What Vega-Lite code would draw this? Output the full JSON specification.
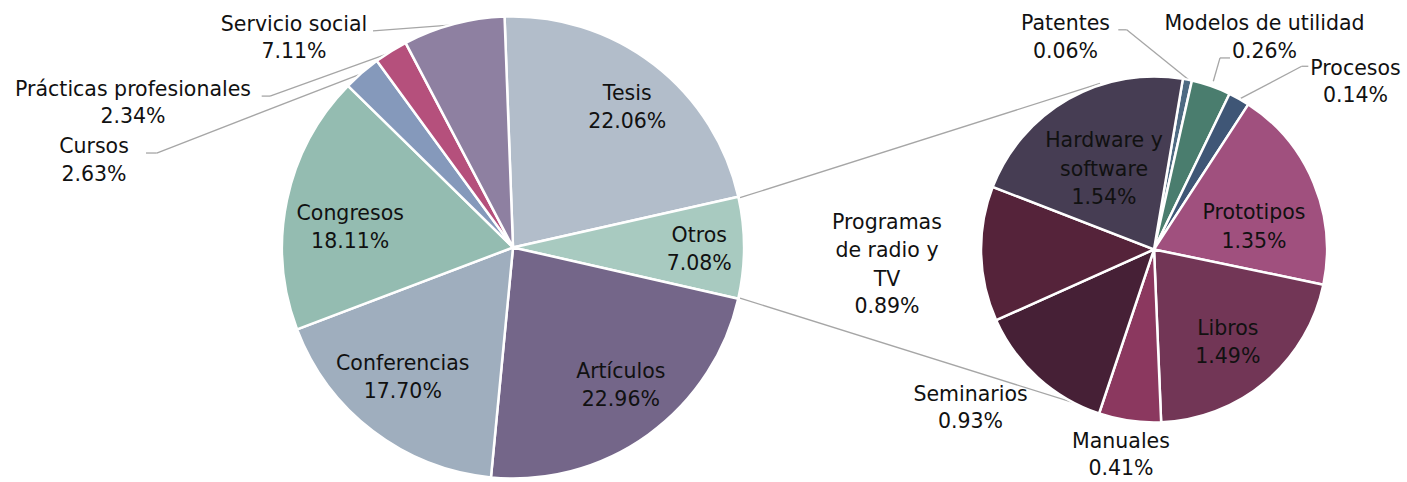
{
  "$schema": "https://vega.github.io/schema/vega-lite/v6.json",
  "width": 1407,
  "height": 482,
  "padding": 0,
  "autosize": {"type": "fit", "contains": "padding"},
  "background": "white",
  "config": {
    "view": {"stroke": null},
    "axis": {"disable": true},
    "arc": {"stroke": "#ffffff", "strokeWidth": 2.5},
    "rule": {"color": "#A6A6A6", "strokeWidth": 1.3},
    "text": {"font": "DejaVu Sans", "fontSize": 20.5, "color": "#111111", "align": "center", "baseline": "alphabetic", "lineHeight": 28.5, "lineBreak": "\n"}
  },
  "datasets": {
    "principal": [
      {"categoria": "Tesis", "valor": 0.2206},
      {"categoria": "Otros", "valor": 0.0708},
      {"categoria": "Artículos", "valor": 0.2296},
      {"categoria": "Conferencias", "valor": 0.1770},
      {"categoria": "Congresos", "valor": 0.1811},
      {"categoria": "Cursos", "valor": 0.0263},
      {"categoria": "Prácticas profesionales", "valor": 0.0234},
      {"categoria": "Servicio social", "valor": 0.0711}
    ],
    "otros": [
      {"categoria": "Patentes", "valor": 0.0006},
      {"categoria": "Modelos de utilidad", "valor": 0.0026},
      {"categoria": "Procesos", "valor": 0.0014},
      {"categoria": "Prototipos", "valor": 0.0135},
      {"categoria": "Libros", "valor": 0.0149},
      {"categoria": "Manuales", "valor": 0.0041},
      {"categoria": "Seminarios", "valor": 0.0093},
      {"categoria": "Programas de radio y TV", "valor": 0.0089, "etiqueta": "Programas\nde radio y\nTV"},
      {"categoria": "Hardware y software", "valor": 0.0154, "etiqueta": "Hardware y\nsoftware"}
    ]
  },
  "resolve": {"scale": {"theta": "independent"}},
  "layer": [
    {"data": {"name": "principal"}, "transform": [{"filter": "datum.categoria == 'Otros'"}], "mark": "rule",
     "encoding": {"x": {"datum": 0.9827, "type": "quantitative", "scale": {"domain": [-2.2208, 3.8701], "nice": false, "zero": false}}, "y": {"datum": 0.2165, "type": "quantitative", "scale": {"domain": [-1.0087, 1.0779], "nice": false, "zero": false}}, "x2": {"datum": 2.5411}, "y2": {"datum": 0.7143}}},
    {"data": {"name": "principal"}, "transform": [{"filter": "datum.categoria == 'Otros'"}], "mark": "rule",
     "encoding": {"x": {"datum": 0.9827, "type": "quantitative", "scale": {"domain": [-2.2208, 3.8701], "nice": false, "zero": false}}, "y": {"datum": -0.2208, "type": "quantitative", "scale": {"domain": [-1.0087, 1.0779], "nice": false, "zero": false}}, "x2": {"datum": 2.5195}, "y2": {"datum": -0.7056}}},
    {"data": {"name": "principal"}, "transform": [{"filter": "datum.categoria == 'Servicio social'"}], "mark": "rule",
     "encoding": {"x": {"datum": -0.6061, "type": "quantitative", "scale": {"domain": [-2.2208, 3.8701], "nice": false, "zero": false}}, "y": {"datum": 0.9437, "type": "quantitative", "scale": {"domain": [-1.0087, 1.0779], "nice": false, "zero": false}}, "x2": {"datum": -0.2597}, "y2": {"datum": 0.9697}}},
    {"data": {"name": "principal"}, "transform": [{"filter": "datum.categoria == 'Prácticas profesionales'"}], "mark": "rule",
     "encoding": {"x": {"datum": -1.0879, "type": "quantitative", "scale": {"domain": [-2.2208, 3.8701], "nice": false, "zero": false}}, "y": {"datum": 0.6593, "type": "quantitative", "scale": {"domain": [-1.0087, 1.0779], "nice": false, "zero": false}}, "x2": {"datum": -1.0519}, "y2": {"datum": 0.6593}}},
    {"data": {"name": "principal"}, "transform": [{"filter": "datum.categoria == 'Prácticas profesionales'"}], "mark": "rule",
     "encoding": {"x": {"datum": -1.0519, "type": "quantitative", "scale": {"domain": [-2.2208, 3.8701], "nice": false, "zero": false}}, "y": {"datum": 0.6593, "type": "quantitative", "scale": {"domain": [-1.0087, 1.0779], "nice": false, "zero": false}}, "x2": {"datum": -0.5325}, "y2": {"datum": 0.8472}}},
    {"data": {"name": "principal"}, "transform": [{"filter": "datum.categoria == 'Cursos'"}], "mark": "rule",
     "encoding": {"x": {"datum": -1.5887, "type": "quantitative", "scale": {"domain": [-2.2208, 3.8701], "nice": false, "zero": false}}, "y": {"datum": 0.4113, "type": "quantitative", "scale": {"domain": [-1.0087, 1.0779], "nice": false, "zero": false}}, "x2": {"datum": -1.5424}, "y2": {"datum": 0.4113}}},
    {"data": {"name": "principal"}, "transform": [{"filter": "datum.categoria == 'Cursos'"}], "mark": "rule",
     "encoding": {"x": {"datum": -1.5424, "type": "quantitative", "scale": {"domain": [-2.2208, 3.8701], "nice": false, "zero": false}}, "y": {"datum": 0.4113, "type": "quantitative", "scale": {"domain": [-1.0087, 1.0779], "nice": false, "zero": false}}, "x2": {"datum": -0.6550}, "y2": {"datum": 0.7576}}},
    {"data": {"name": "otros"}, "transform": [{"filter": "datum.categoria == 'Patentes'"}], "mark": "rule",
     "encoding": {"x": {"datum": 2.6203, "type": "quantitative", "scale": {"domain": [-2.2208, 3.8701], "nice": false, "zero": false}}, "y": {"datum": 0.9481, "type": "quantitative", "scale": {"domain": [-1.0087, 1.0779], "nice": false, "zero": false}}, "x2": {"datum": 2.6567}, "y2": {"datum": 0.9481}}},
    {"data": {"name": "otros"}, "transform": [{"filter": "datum.categoria == 'Patentes'"}], "mark": "rule",
     "encoding": {"x": {"datum": 2.6567, "type": "quantitative", "scale": {"domain": [-2.2208, 3.8701], "nice": false, "zero": false}}, "y": {"datum": 0.9481, "type": "quantitative", "scale": {"domain": [-1.0087, 1.0779], "nice": false, "zero": false}}, "x2": {"datum": 2.9234}, "y2": {"datum": 0.7316}}},
    {"data": {"name": "otros"}, "transform": [{"filter": "datum.categoria == 'Modelos de utilidad'"}], "mark": "rule",
     "encoding": {"x": {"datum": 3.1039, "type": "quantitative", "scale": {"domain": [-2.2208, 3.8701], "nice": false, "zero": false}}, "y": {"datum": 0.8255, "type": "quantitative", "scale": {"domain": [-1.0087, 1.0779], "nice": false, "zero": false}}, "x2": {"datum": 3.0606}, "y2": {"datum": 0.8255}}},
    {"data": {"name": "otros"}, "transform": [{"filter": "datum.categoria == 'Modelos de utilidad'"}], "mark": "rule",
     "encoding": {"x": {"datum": 3.0606, "type": "quantitative", "scale": {"domain": [-2.2208, 3.8701], "nice": false, "zero": false}}, "y": {"datum": 0.8255, "type": "quantitative", "scale": {"domain": [-1.0087, 1.0779], "nice": false, "zero": false}}, "x2": {"datum": 3.0316}, "y2": {"datum": 0.7242}}},
    {"data": {"name": "otros"}, "transform": [{"filter": "datum.categoria == 'Procesos'"}], "mark": "rule",
     "encoding": {"x": {"datum": 3.4429, "type": "quantitative", "scale": {"domain": [-2.2208, 3.8701], "nice": false, "zero": false}}, "y": {"datum": 0.7892, "type": "quantitative", "scale": {"domain": [-1.0087, 1.0779], "nice": false, "zero": false}}, "x2": {"datum": 3.4143}, "y2": {"datum": 0.7892}}},
    {"data": {"name": "otros"}, "transform": [{"filter": "datum.categoria == 'Procesos'"}], "mark": "rule",
     "encoding": {"x": {"datum": 3.4143, "type": "quantitative", "scale": {"domain": [-2.2208, 3.8701], "nice": false, "zero": false}}, "y": {"datum": 0.7892, "type": "quantitative", "scale": {"domain": [-1.0087, 1.0779], "nice": false, "zero": false}}, "x2": {"datum": 3.1502}, "y2": {"datum": 0.6494}}},
    {"data": {"name": "principal"}, "transform": [{"window": [{"op": "row_number", "as": "orden"}]}],
     "mark": {"type": "arc", "outerRadius": 231},
     "encoding": {
       "x": {"datum": 0, "type": "quantitative", "scale": {"domain": [-2.2208, 3.8701], "nice": false, "zero": false}},
       "y": {"datum": 0, "type": "quantitative", "scale": {"domain": [-1.0087, 1.0779], "nice": false, "zero": false}},
       "theta": {"field": "valor", "type": "quantitative", "stack": true, "scale": {"range": [-0.03665, 6.24653]}},
       "order": {"field": "orden", "type": "quantitative"},
       "color": {"field": "categoria", "type": "nominal", "legend": null,
         "scale": {
           "domain": ["Tesis", "Otros", "Artículos", "Conferencias", "Congresos", "Cursos", "Prácticas profesionales", "Servicio social", "Patentes", "Modelos de utilidad", "Procesos", "Prototipos", "Libros", "Manuales", "Seminarios", "Programas de radio y TV", "Hardware y software"],
           "range": ["#B2BDCA", "#A8CAC0", "#746689", "#9FAEBE", "#94BCB1", "#8599BB", "#B5507C", "#8E80A1", "#4E6A82", "#4A7D6E", "#3F5676", "#A0507E", "#723656", "#8B385F", "#462036", "#55233A", "#463D53"]
         }}
     }},
    {"data": {"name": "otros"}, "transform": [{"window": [{"op": "row_number", "as": "orden"}]}],
     "mark": {"type": "arc", "outerRadius": 173},
     "encoding": {
       "x": {"datum": 2.7749, "type": "quantitative", "scale": {"domain": [-2.2208, 3.8701], "nice": false, "zero": false}},
       "y": {"datum": -0.0087, "type": "quantitative", "scale": {"domain": [-1.0087, 1.0779], "nice": false, "zero": false}},
       "theta": {"field": "valor", "type": "quantitative", "stack": true, "scale": {"range": [0.16755, 6.45074]}},
       "order": {"field": "orden", "type": "quantitative"},
       "color": {"field": "categoria", "type": "nominal", "legend": null}
     }},
    {"data": {"name": "principal"}, "transform": [{"filter": "datum.categoria == 'Tesis'"}], "mark": "text", "encoding": {"x": {"datum": 0.4944, "type": "quantitative", "scale": {"domain": [-2.2208, 3.8701], "nice": false, "zero": false}}, "y": {"datum": 0.6420, "type": "quantitative", "scale": {"domain": [-1.0087, 1.0779], "nice": false, "zero": false}}, "text": {"field": "categoria"}}},
    {"data": {"name": "principal"}, "transform": [{"filter": "datum.categoria == 'Tesis'"}], "mark": "text", "encoding": {"x": {"datum": 0.4944, "type": "quantitative", "scale": {"domain": [-2.2208, 3.8701], "nice": false, "zero": false}}, "y": {"datum": 0.5195, "type": "quantitative", "scale": {"domain": [-1.0087, 1.0779], "nice": false, "zero": false}}, "text": {"field": "valor", "type": "quantitative", "format": ".2%"}}},
    {"data": {"name": "principal"}, "transform": [{"filter": "datum.categoria == 'Otros'"}], "mark": "text", "encoding": {"x": {"datum": 0.8061, "type": "quantitative", "scale": {"domain": [-2.2208, 3.8701], "nice": false, "zero": false}}, "y": {"datum": 0.0247, "type": "quantitative", "scale": {"domain": [-1.0087, 1.0779], "nice": false, "zero": false}}, "text": {"field": "categoria"}}},
    {"data": {"name": "principal"}, "transform": [{"filter": "datum.categoria == 'Otros'"}], "mark": "text", "encoding": {"x": {"datum": 0.8061, "type": "quantitative", "scale": {"domain": [-2.2208, 3.8701], "nice": false, "zero": false}}, "y": {"datum": -0.0983, "type": "quantitative", "scale": {"domain": [-1.0087, 1.0779], "nice": false, "zero": false}}, "text": {"field": "valor", "type": "quantitative", "format": ".2%"}}},
    {"data": {"name": "principal"}, "transform": [{"filter": "datum.categoria == 'Artículos'"}], "mark": "text", "encoding": {"x": {"datum": 0.4667, "type": "quantitative", "scale": {"domain": [-2.2208, 3.8701], "nice": false, "zero": false}}, "y": {"datum": -0.5671, "type": "quantitative", "scale": {"domain": [-1.0087, 1.0779], "nice": false, "zero": false}}, "text": {"field": "categoria"}}},
    {"data": {"name": "principal"}, "transform": [{"filter": "datum.categoria == 'Artículos'"}], "mark": "text", "encoding": {"x": {"datum": 0.4667, "type": "quantitative", "scale": {"domain": [-2.2208, 3.8701], "nice": false, "zero": false}}, "y": {"datum": -0.6896, "type": "quantitative", "scale": {"domain": [-1.0087, 1.0779], "nice": false, "zero": false}}, "text": {"field": "valor", "type": "quantitative", "format": ".2%"}}},
    {"data": {"name": "principal"}, "transform": [{"filter": "datum.categoria == 'Conferencias'"}], "mark": "text", "encoding": {"x": {"datum": -0.4771, "type": "quantitative", "scale": {"domain": [-2.2208, 3.8701], "nice": false, "zero": false}}, "y": {"datum": -0.5355, "type": "quantitative", "scale": {"domain": [-1.0087, 1.0779], "nice": false, "zero": false}}, "text": {"field": "categoria"}}},
    {"data": {"name": "principal"}, "transform": [{"filter": "datum.categoria == 'Conferencias'"}], "mark": "text", "encoding": {"x": {"datum": -0.4771, "type": "quantitative", "scale": {"domain": [-2.2208, 3.8701], "nice": false, "zero": false}}, "y": {"datum": -0.6567, "type": "quantitative", "scale": {"domain": [-1.0087, 1.0779], "nice": false, "zero": false}}, "text": {"field": "valor", "type": "quantitative", "format": ".2%"}}},
    {"data": {"name": "principal"}, "transform": [{"filter": "datum.categoria == 'Congresos'"}], "mark": "text", "encoding": {"x": {"datum": -0.7048, "type": "quantitative", "scale": {"domain": [-2.2208, 3.8701], "nice": false, "zero": false}}, "y": {"datum": 0.1182, "type": "quantitative", "scale": {"domain": [-1.0087, 1.0779], "nice": false, "zero": false}}, "text": {"field": "categoria"}}},
    {"data": {"name": "principal"}, "transform": [{"filter": "datum.categoria == 'Congresos'"}], "mark": "text", "encoding": {"x": {"datum": -0.7048, "type": "quantitative", "scale": {"domain": [-2.2208, 3.8701], "nice": false, "zero": false}}, "y": {"datum": -0.0013, "type": "quantitative", "scale": {"domain": [-1.0087, 1.0779], "nice": false, "zero": false}}, "text": {"field": "valor", "type": "quantitative", "format": ".2%"}}},
    {"data": {"name": "principal"}, "transform": [{"filter": "datum.categoria == 'Servicio social'"}], "mark": "text", "encoding": {"x": {"datum": -0.9481, "type": "quantitative", "scale": {"domain": [-2.2208, 3.8701], "nice": false, "zero": false}}, "y": {"datum": 0.9450, "type": "quantitative", "scale": {"domain": [-1.0087, 1.0779], "nice": false, "zero": false}}, "text": {"field": "categoria"}}},
    {"data": {"name": "principal"}, "transform": [{"filter": "datum.categoria == 'Servicio social'"}], "mark": "text", "encoding": {"x": {"datum": -0.9481, "type": "quantitative", "scale": {"domain": [-2.2208, 3.8701], "nice": false, "zero": false}}, "y": {"datum": 0.8255, "type": "quantitative", "scale": {"domain": [-1.0087, 1.0779], "nice": false, "zero": false}}, "text": {"field": "valor", "type": "quantitative", "format": ".2%"}}},
    {"data": {"name": "principal"}, "transform": [{"filter": "datum.categoria == 'Prácticas profesionales'"}], "mark": "text", "encoding": {"x": {"datum": -1.6450, "type": "quantitative", "scale": {"domain": [-2.2208, 3.8701], "nice": false, "zero": false}}, "y": {"datum": 0.6593, "type": "quantitative", "scale": {"domain": [-1.0087, 1.0779], "nice": false, "zero": false}}, "text": {"field": "categoria"}}},
    {"data": {"name": "principal"}, "transform": [{"filter": "datum.categoria == 'Prácticas profesionales'"}], "mark": "text", "encoding": {"x": {"datum": -1.6450, "type": "quantitative", "scale": {"domain": [-2.2208, 3.8701], "nice": false, "zero": false}}, "y": {"datum": 0.5411, "type": "quantitative", "scale": {"domain": [-1.0087, 1.0779], "nice": false, "zero": false}}, "text": {"field": "valor", "type": "quantitative", "format": ".2%"}}},
    {"data": {"name": "principal"}, "transform": [{"filter": "datum.categoria == 'Cursos'"}], "mark": "text", "encoding": {"x": {"datum": -1.8139, "type": "quantitative", "scale": {"domain": [-2.2208, 3.8701], "nice": false, "zero": false}}, "y": {"datum": 0.4113, "type": "quantitative", "scale": {"domain": [-1.0087, 1.0779], "nice": false, "zero": false}}, "text": {"field": "categoria"}}},
    {"data": {"name": "principal"}, "transform": [{"filter": "datum.categoria == 'Cursos'"}], "mark": "text", "encoding": {"x": {"datum": -1.8139, "type": "quantitative", "scale": {"domain": [-2.2208, 3.8701], "nice": false, "zero": false}}, "y": {"datum": 0.2913, "type": "quantitative", "scale": {"domain": [-1.0087, 1.0779], "nice": false, "zero": false}}, "text": {"field": "valor", "type": "quantitative", "format": ".2%"}}},
    {"data": {"name": "otros"}, "transform": [{"filter": "datum.categoria == 'Patentes'"}], "mark": "text", "encoding": {"x": {"datum": 2.3918, "type": "quantitative", "scale": {"domain": [-2.2208, 3.8701], "nice": false, "zero": false}}, "y": {"datum": 0.9481, "type": "quantitative", "scale": {"domain": [-1.0087, 1.0779], "nice": false, "zero": false}}, "text": {"field": "categoria"}}},
    {"data": {"name": "otros"}, "transform": [{"filter": "datum.categoria == 'Patentes'"}], "mark": "text", "encoding": {"x": {"datum": 2.3918, "type": "quantitative", "scale": {"domain": [-2.2208, 3.8701], "nice": false, "zero": false}}, "y": {"datum": 0.8255, "type": "quantitative", "scale": {"domain": [-1.0087, 1.0779], "nice": false, "zero": false}}, "text": {"field": "valor", "type": "quantitative", "format": ".2%"}}},
    {"data": {"name": "otros"}, "transform": [{"filter": "datum.categoria == 'Modelos de utilidad'"}], "mark": "text", "encoding": {"x": {"datum": 3.2532, "type": "quantitative", "scale": {"domain": [-2.2208, 3.8701], "nice": false, "zero": false}}, "y": {"datum": 0.9481, "type": "quantitative", "scale": {"domain": [-1.0087, 1.0779], "nice": false, "zero": false}}, "text": {"field": "categoria"}}},
    {"data": {"name": "otros"}, "transform": [{"filter": "datum.categoria == 'Modelos de utilidad'"}], "mark": "text", "encoding": {"x": {"datum": 3.2532, "type": "quantitative", "scale": {"domain": [-2.2208, 3.8701], "nice": false, "zero": false}}, "y": {"datum": 0.8255, "type": "quantitative", "scale": {"domain": [-1.0087, 1.0779], "nice": false, "zero": false}}, "text": {"field": "valor", "type": "quantitative", "format": ".2%"}}},
    {"data": {"name": "otros"}, "transform": [{"filter": "datum.categoria == 'Procesos'"}], "mark": "text", "encoding": {"x": {"datum": 3.6472, "type": "quantitative", "scale": {"domain": [-2.2208, 3.8701], "nice": false, "zero": false}}, "y": {"datum": 0.7532, "type": "quantitative", "scale": {"domain": [-1.0087, 1.0779], "nice": false, "zero": false}}, "text": {"field": "categoria"}}},
    {"data": {"name": "otros"}, "transform": [{"filter": "datum.categoria == 'Procesos'"}], "mark": "text", "encoding": {"x": {"datum": 3.6472, "type": "quantitative", "scale": {"domain": [-2.2208, 3.8701], "nice": false, "zero": false}}, "y": {"datum": 0.6320, "type": "quantitative", "scale": {"domain": [-1.0087, 1.0779], "nice": false, "zero": false}}, "text": {"field": "valor", "type": "quantitative", "format": ".2%"}}},
    {"data": {"name": "otros"}, "transform": [{"filter": "datum.categoria == 'Hardware y software'"}], "mark": "text", "encoding": {"x": {"datum": 2.5584, "type": "quantitative", "scale": {"domain": [-2.2208, 3.8701], "nice": false, "zero": false}}, "y": {"datum": 0.4359, "type": "quantitative", "scale": {"domain": [-1.0087, 1.0779], "nice": false, "zero": false}}, "text": {"field": "etiqueta"}}},
    {"data": {"name": "otros"}, "transform": [{"filter": "datum.categoria == 'Hardware y software'"}], "mark": "text", "encoding": {"x": {"datum": 2.5584, "type": "quantitative", "scale": {"domain": [-2.2208, 3.8701], "nice": false, "zero": false}}, "y": {"datum": 0.1905, "type": "quantitative", "scale": {"domain": [-1.0087, 1.0779], "nice": false, "zero": false}}, "text": {"field": "valor", "type": "quantitative", "format": ".2%"}}},
    {"data": {"name": "otros"}, "transform": [{"filter": "datum.categoria == 'Prototipos'"}], "mark": "text", "encoding": {"x": {"datum": 3.2078, "type": "quantitative", "scale": {"domain": [-2.2208, 3.8701], "nice": false, "zero": false}}, "y": {"datum": 0.1255, "type": "quantitative", "scale": {"domain": [-1.0087, 1.0779], "nice": false, "zero": false}}, "text": {"field": "categoria"}}},
    {"data": {"name": "otros"}, "transform": [{"filter": "datum.categoria == 'Prototipos'"}], "mark": "text", "encoding": {"x": {"datum": 3.2078, "type": "quantitative", "scale": {"domain": [-2.2208, 3.8701], "nice": false, "zero": false}}, "y": {"datum": -0.0013, "type": "quantitative", "scale": {"domain": [-1.0087, 1.0779], "nice": false, "zero": false}}, "text": {"field": "valor", "type": "quantitative", "format": ".2%"}}},
    {"data": {"name": "otros"}, "transform": [{"filter": "datum.categoria == 'Libros'"}], "mark": "text", "encoding": {"x": {"datum": 3.0944, "type": "quantitative", "scale": {"domain": [-2.2208, 3.8701], "nice": false, "zero": false}}, "y": {"datum": -0.3797, "type": "quantitative", "scale": {"domain": [-1.0087, 1.0779], "nice": false, "zero": false}}, "text": {"field": "categoria"}}},
    {"data": {"name": "otros"}, "transform": [{"filter": "datum.categoria == 'Libros'"}], "mark": "text", "encoding": {"x": {"datum": 3.0944, "type": "quantitative", "scale": {"domain": [-2.2208, 3.8701], "nice": false, "zero": false}}, "y": {"datum": -0.5022, "type": "quantitative", "scale": {"domain": [-1.0087, 1.0779], "nice": false, "zero": false}}, "text": {"field": "valor", "type": "quantitative", "format": ".2%"}}},
    {"data": {"name": "otros"}, "transform": [{"filter": "datum.categoria == 'Programas de radio y TV'"}], "mark": "text", "encoding": {"x": {"datum": 1.6190, "type": "quantitative", "scale": {"domain": [-2.2208, 3.8701], "nice": false, "zero": false}}, "y": {"datum": 0.0823, "type": "quantitative", "scale": {"domain": [-1.0087, 1.0779], "nice": false, "zero": false}}, "text": {"field": "etiqueta"}}},
    {"data": {"name": "otros"}, "transform": [{"filter": "datum.categoria == 'Programas de radio y TV'"}], "mark": "text", "encoding": {"x": {"datum": 1.6190, "type": "quantitative", "scale": {"domain": [-2.2208, 3.8701], "nice": false, "zero": false}}, "y": {"datum": -0.2857, "type": "quantitative", "scale": {"domain": [-1.0087, 1.0779], "nice": false, "zero": false}}, "text": {"field": "valor", "type": "quantitative", "format": ".2%"}}},
    {"data": {"name": "otros"}, "transform": [{"filter": "datum.categoria == 'Seminarios'"}], "mark": "text", "encoding": {"x": {"datum": 1.9805, "type": "quantitative", "scale": {"domain": [-2.2208, 3.8701], "nice": false, "zero": false}}, "y": {"datum": -0.6680, "type": "quantitative", "scale": {"domain": [-1.0087, 1.0779], "nice": false, "zero": false}}, "text": {"field": "categoria"}}},
    {"data": {"name": "otros"}, "transform": [{"filter": "datum.categoria == 'Seminarios'"}], "mark": "text", "encoding": {"x": {"datum": 1.9805, "type": "quantitative", "scale": {"domain": [-2.2208, 3.8701], "nice": false, "zero": false}}, "y": {"datum": -0.7866, "type": "quantitative", "scale": {"domain": [-1.0087, 1.0779], "nice": false, "zero": false}}, "text": {"field": "valor", "type": "quantitative", "format": ".2%"}}},
    {"data": {"name": "otros"}, "transform": [{"filter": "datum.categoria == 'Manuales'"}], "mark": "text", "encoding": {"x": {"datum": 2.6320, "type": "quantitative", "scale": {"domain": [-2.2208, 3.8701], "nice": false, "zero": false}}, "y": {"datum": -0.8745, "type": "quantitative", "scale": {"domain": [-1.0087, 1.0779], "nice": false, "zero": false}}, "text": {"field": "categoria"}}},
    {"data": {"name": "otros"}, "transform": [{"filter": "datum.categoria == 'Manuales'"}], "mark": "text", "encoding": {"x": {"datum": 2.6320, "type": "quantitative", "scale": {"domain": [-2.2208, 3.8701], "nice": false, "zero": false}}, "y": {"datum": -0.9913, "type": "quantitative", "scale": {"domain": [-1.0087, 1.0779], "nice": false, "zero": false}}, "text": {"field": "valor", "type": "quantitative", "format": ".2%"}}}
  ]
}
